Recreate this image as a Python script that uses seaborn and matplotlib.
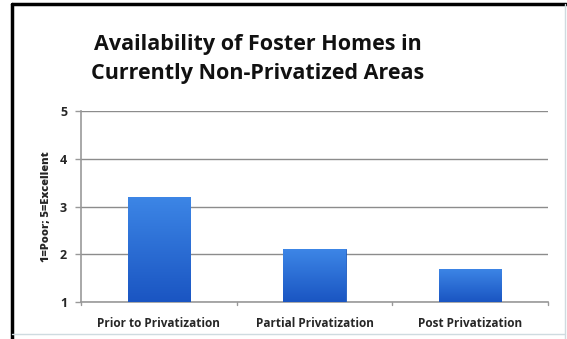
import numpy as np
import pandas as pd
import matplotlib
matplotlib.use("Agg")
import matplotlib.pyplot as plt
import seaborn as sns
from matplotlib.lines import Line2D

categories = ["Prior to Privatization", "Partial Privatization", "Post Privatization"]
ratings = [3.2, 2.1, 1.7]
y_ticks = [1, 2, 3, 4, 5]
title = "Availability of Foster Homes in\nCurrently Non-Privatized Areas"
y_label = "1=Poor; 5=Excellent"

sns.set_theme(style="white")
plt.rcParams["font.family"] = ["Open Sans", "DejaVu Sans"]

df = pd.DataFrame({"stage": categories, "rating": ratings})

fig = plt.figure(figsize=(5.67, 3.39), dpi=100)
ax = fig.add_axes([0.1429, 0.1091, 0.8236, 0.5634])

sns.barplot(data=df, x="stage", y="rating", ax=ax, color="#2a6fd6",
            width=0.4, saturation=1, zorder=3)

# vertical blue gradient inside each bar
grad = np.linspace(0, 1, 256).reshape(-1, 1)
cmap = matplotlib.colors.LinearSegmentedColormap.from_list(
    "barblue", ["#1a55c2", "#3d86e6"])
for p in ax.patches:
    x0, y0 = p.get_x(), 1
    w, h = p.get_width(), p.get_height()
    im = ax.imshow(grad, extent=[x0, x0 + w, y0, h], origin="lower",
                   cmap=cmap, aspect="auto", zorder=4)
    im.set_clip_path(p)
    p.set_edgecolor("#1d5bbf")
    p.set_linewidth(0.6)

ax.set_xlim(-0.5, 2.5)
ax.set_ylim(1, 5)
ax.set_yticks(y_ticks)
ax.set_yticklabels([str(t) for t in y_ticks], fontsize=9, fontweight="bold")
ax.set_xticks(range(len(categories)))
ax.set_xticklabels(categories, fontsize=8.5, fontweight="bold")
ax.set_xlabel("")
ax.set_ylabel(y_label, fontsize=8, fontweight="heavy", labelpad=6)
ax.grid(axis="y", color="#8c8c8c", linewidth=1.0, zorder=0)

for s in ["top", "right"]:
    ax.spines[s].set_visible(False)
ax.spines["left"].set_color("#999999")
ax.spines["bottom"].set_color("#999999")
ax.spines["left"].set_linewidth(1.2)
ax.spines["bottom"].set_linewidth(1.2)

ax.tick_params(axis="y", length=4, width=1, color="#999999", pad=6, direction="out", left=True)
ax.tick_params(axis="x", length=0, pad=11)
# small tick marks at category boundaries
for xb in [-0.5, 0.5, 1.5, 2.5]:
    ax.plot([xb, xb], [1, 0.94], color="#999999", lw=1, clip_on=False, zorder=2)

fig.text(0.455, 0.827, title, ha="center", va="center", fontsize=15.5,
         fontweight="bold", linespacing=1.5, color="#111111")

# chart frame
fig.add_artist(Line2D([0.022, 0.022], [0.0, 0.988], color="black", lw=2.5,
                      transform=fig.transFigure))
fig.add_artist(Line2D([0.022, 0.998], [0.988, 0.988], color="black", lw=2.5,
                      transform=fig.transFigure))
fig.add_artist(Line2D([0.996, 0.996], [0.0, 0.988], color="#cfdbe0", lw=1,
                      transform=fig.transFigure))
fig.add_artist(Line2D([0.022, 0.996], [0.015, 0.015], color="#cfdbe0", lw=1,
                      transform=fig.transFigure))

fig.savefig("out.png", dpi=100)
